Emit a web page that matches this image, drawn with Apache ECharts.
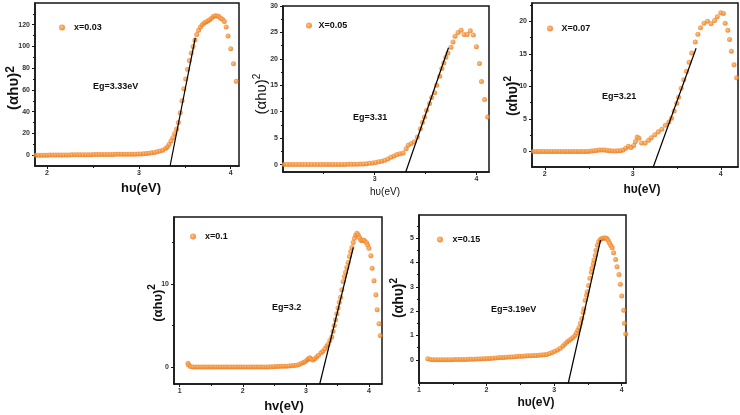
<!DOCTYPE html>
<html><head><meta charset="utf-8">
<script src="https://cdn.jsdelivr.net/npm/echarts@6/dist/echarts.min.js"></script>
<style>html,body{margin:0;padding:0;background:#fff}#c{width:740px;height:415px}</style>
</head><body><div id="c"></div>
<script>
// ---------- DATA ----------
const names = ['x=0.03', 'X=0.05', 'X=0.07', 'x=0.1', 'x=0.15'];
const egLabels = ['Eg=3.33eV', 'Eg=3.31', 'Eg=3.21', 'Eg=3.2', 'Eg=3.19eV'];
const xTitles = ['hυ(eV)', 'hυ(eV)', 'hυ(eV)', 'hv(eV)', 'hυ(eV)'];
const yTitleMain = ['(αhυ)', '(αhυ)', '(αhυ)', '(αhυ)', '(αhυ)'];
const yTitleSup = ['2', '2', '2', '2', '2'];

const x1 = [1.88,1.91,1.94,1.97,2.00,2.03,2.06,2.09,2.12,2.15,2.18,2.21,2.24,2.27,2.30,2.33,2.36,2.39,2.42,2.45,2.48,2.51,2.54,2.57,2.60,2.63,2.66,2.69,2.72,2.75,2.78,2.81,2.84,2.87,2.90,2.93,2.96,2.99,
  3.02,3.05,3.08,3.11,3.14,3.17,3.20,3.23,3.26,3.29,3.31,3.33,3.35,3.37,3.39,3.41,3.43,3.45,3.47,3.49,3.51,3.53,3.55,3.57,3.59,3.61,3.63,3.65,3.67,3.69,3.71,3.73,3.75,3.77,3.79,3.81,3.83,3.85,3.87,3.89,3.91,3.93,3.95,3.97,4.00,4.03,4.06];
const y1 = [0,0,0,0,0,0.1,0.1,0.1,0.1,0.2,0.2,0.2,0.2,0.3,0.3,0.3,0.3,0.4,0.4,0.4,0.4,0.5,0.5,0.5,0.5,0.6,0.6,0.6,0.6,0.7,0.7,0.7,0.8,0.8,0.8,0.9,0.9,1.0,
  1.1,1.3,1.5,1.8,2.1,2.5,3.0,3.7,4.5,6,7.5,10,13,16,20,24,30,39,50,61,70,79,87,94,100,106,111,115,118,120,121.5,122.5,123.5,124.5,126,127.5,128.2,128,127.5,126,125,123,118,109.6,98,84,68];

const x2 = [2.11,2.14,2.17,2.20,2.23,2.26,2.29,2.32,2.35,2.38,2.41,2.44,2.47,2.50,2.53,2.56,2.59,2.62,2.65,2.68,2.71,2.74,2.77,2.80,2.83,2.86,2.89,
  2.92,2.95,2.98,3.01,3.04,3.07,3.10,3.13,3.16,3.19,3.22,3.25,3.28,3.31,3.33,3.36,3.39,3.42,3.45,3.47,3.49,3.51,3.54,3.56,3.59,3.61,3.64,3.66,3.68,3.70,3.72,3.75,3.77,3.79,3.82,3.85,3.88,3.91,3.94,3.97,4.00,4.03,4.05,4.08,4.11];
const y2 = [0,0,0,0,0,0,0,0,0,0,0,0,0,0.02,0.02,0.02,0.03,0.03,0.03,0.04,0.04,0.05,0.05,0.06,0.08,0.1,0.13,
  0.18,0.25,0.32,0.4,0.52,0.65,0.82,1.05,1.4,1.65,1.9,2.05,2.2,3.0,3.65,4.0,4.3,5.2,6.8,8.0,9.0,10.3,11.55,12.7,13.6,15.0,16.7,18.2,19.2,20.3,21.1,22.2,23.2,24.3,25.0,25.4,24.6,24.6,25.3,24.5,22.3,19.1,15.7,12.3,9.0];

const x3 = [1.87,1.90,1.93,1.96,1.99,2.02,2.05,2.08,2.11,2.14,2.17,2.20,2.23,2.26,2.29,2.32,2.35,2.38,2.41,2.44,2.47,2.50,
  2.53,2.56,2.59,2.62,2.65,2.68,2.71,2.74,2.77,2.80,2.83,2.86,2.89,2.92,2.95,2.98,
  3.01,3.03,3.05,3.07,3.10,3.14,3.18,3.21,3.25,3.29,3.33,3.37,3.41,3.44,3.47,3.50,3.52,3.55,3.58,3.61,3.64,3.67,3.71,3.74,3.77,3.81,3.85,3.89,3.93,3.96,4.00,4.03,4.05,4.08,4.10,4.12,4.15,4.18];
const y3 = [0,0,0,0,0,0,0,0,0,0,0,0,0,0,0,0,0,0,0,0,0,0,
  0.05,0.1,0.15,0.2,0.2,0.2,0.15,0.08,0.05,0.05,0.08,0.1,0.2,0.5,0.8,0.6,
  0.9,1.5,2.2,2.0,1.3,1.3,1.7,2.1,2.55,3.0,3.4,4.0,4.5,5.1,6.2,7.4,8.3,9.7,11.0,12.3,13.7,15.1,16.8,18.0,19.0,19.7,20.0,19.6,20.1,20.7,21.3,21.2,19.7,18.6,17.2,15.4,13.3,11.3];

const x4 = [1.13,1.14,1.17,1.21,1.25,1.29,1.33,1.37,1.41,1.45,1.49,1.53,1.57,1.61,1.65,1.69,1.73,1.77,1.81,1.85,1.89,1.93,1.97,2.01,2.05,2.09,2.13,2.17,2.21,2.25,2.29,2.33,2.37,2.41,2.45,2.49,2.53,2.57,
  2.61,2.65,2.69,2.73,2.77,2.81,2.85,2.89,2.93,2.96,2.99,3.02,3.04,3.06,3.08,3.11,3.14,3.17,3.20,3.24,3.27,3.30,3.33,3.35,3.38,3.41,3.43,3.45,3.47,3.49,3.51,3.53,3.55,3.57,3.59,3.61,3.63,3.65,3.67,3.69,3.71,3.73,3.75,3.77,3.79,3.81,3.83,3.85,3.87,3.89,3.91,3.93,3.96,3.98,4.00,4.03,4.05,4.08,4.11,4.13,4.16,4.18];
const y4 = [0.45,0.25,0.05,0,0,0,0,0,0,0,0,0,0,0,0,0,0,0,0,0,0,0,0,0,0,0,0,0,0,0,0,0,0,0,0.02,0.03,0.05,0.06,
  0.08,0.1,0.1,0.12,0.15,0.18,0.2,0.3,0.45,0.55,0.65,0.85,1.0,1.1,0.95,0.85,1.0,1.2,1.4,1.7,1.9,2.2,2.5,2.7,3.2,3.6,4.3,5.0,5.7,6.4,7.1,7.8,8.4,9.3,10.3,10.9,11.4,12.0,12.6,13.3,13.9,14.4,15.0,15.5,15.9,16.1,15.9,15.6,15.3,15.2,15.3,15.2,15.0,14.7,14.3,13.4,11.9,10.4,8.7,6.9,5.2,3.8];

const x5 = [1.13,1.17,1.21,1.25,1.29,1.33,1.37,1.41,1.45,1.49,1.53,1.57,1.61,1.65,1.69,1.73,1.77,1.81,1.85,1.89,1.93,1.97,2.01,2.05,2.09,2.13,2.17,2.21,2.25,2.29,2.33,2.37,2.41,2.45,2.49,2.53,2.57,2.61,2.65,2.69,2.73,2.77,2.81,2.85,2.89,
  2.93,2.97,3.01,3.05,3.09,3.13,3.16,3.19,3.22,3.25,3.28,3.31,3.33,3.35,3.37,3.39,3.41,3.43,3.44,3.46,3.48,3.49,3.51,3.53,3.55,3.56,3.58,3.59,3.61,3.62,3.64,3.66,3.68,3.70,3.72,3.74,3.76,3.78,3.80,3.82,3.84,3.86,3.88,3.91,3.93,3.96,3.98,4.00,4.03,4.04,4.06];
const y5 = [0.05,0.02,0.01,0.01,0.01,0.01,0.01,0.01,0.01,0.01,0.02,0.02,0.02,0.02,0.02,0.03,0.03,0.03,0.04,0.04,0.05,0.05,0.06,0.06,0.07,0.08,0.09,0.1,0.1,0.11,0.12,0.12,0.13,0.14,0.15,0.15,0.16,0.17,0.17,0.18,0.18,0.19,0.2,0.21,0.22,
  0.26,0.3,0.35,0.41,0.48,0.57,0.65,0.73,0.8,0.86,0.92,1.0,1.1,1.22,1.33,1.5,1.7,1.95,2.1,2.45,2.65,2.8,3.05,3.35,3.6,3.76,3.95,4.1,4.3,4.5,4.71,4.85,4.93,4.97,5.0,5.01,5.01,4.98,4.9,4.8,4.7,4.6,4.4,4.12,3.82,3.51,3.11,2.62,2.04,1.5,1.06];

// tangent (Tauc extrapolation) lines: [x at bottom, x at top], [y at bottom, y at top]
const tanX = [[3.34, 3.614], [3.306, 3.726], [3.233, 3.72], [3.22, 3.752], [3.21, 3.687]];
const tanY = [[-10, 108], [-1.4, 22.1], [-2.4, 15.85], [-2.05, 14.4], [-0.95, 4.92]];

// tick labels
const xMajor = [[2,3,4],[3,4],[2,3,4],[1,2,3,4],[1,2,3,4]];
const xMinor = [[2.5,3.5],[2.5,3.5],[2.5,3.5],[1.5,2.5,3.5],[1.5,2.5,3.5]];
const yMajor = [[0,20,40,60,80,100,120],[0,5,10,15,20,25,30],[0,5,10,15,20],[0,10],[0,1,2,3,4,5]];
const yMinor = [[10,30,50,70,90,110,130],[2.5,7.5,12.5,17.5,22.5,27.5],[2.5,7.5,12.5,17.5,22.5],[5,15],[0.5,1.5,2.5,3.5,4.5,5.5]];

const xs = [x1, x2, x3, x4, x5];
const ys = [y1, y2, y3, y4, y5];

// ---------- LAYOUT ----------
const FF = '"Liberation Sans", Arial, sans-serif';
const L = [
  {g:[35,3,204,163],   xr:[1.87,4.09],  yr:[-10,140],   leg:[59,23,14],  eg:[93,87],
   xt:[141,188,'bold 13px'], yt:[13,88,'bold 15px','bold 12px']},
  {g:[283,6,206,166],  xr:[2.10,4.124], yr:[-1.4,30],   leg:[306,21,9],  eg:[353,118],
   xt:[385,192,'normal 10px'], yt:[261,94,'normal 15px','normal 10px']},
  {g:[532,3,206,164],  xr:[1.855,4.196],yr:[-2.4,22.8], leg:[547,24,13], eg:[602,97],
   xt:[642,190,'bold 12px'], yt:[512,96,'bold 14px','bold 10px']},
  {g:[174,217,208,167],xr:[0.909,4.207],yr:[-2.05,18.07],leg:[190,232,14],eg:[272,308],
   xt:[284,406,'bold 13px'], yt:[156,303,'bold 13px','bold 10px']},
  {g:[419,215,207,168],xr:[1.0,4.064],  yr:[-0.95,5.95], leg:[437,235,15], eg:[491,310],
   xt:[536,403,'bold 12px'], yt:[398,298,'bold 14px','bold 10px']}
];

const dotColor = {type:'radial', x:0.4, y:0.4, r:0.65, colorStops:[
  {offset:0, color:'#FDB878'}, {offset:0.45, color:'#F6902F'}, {offset:1, color:'#E2701A'}]};

const grids = [], xAxes = [], yAxes = [], series = [], legends = [], graphics = [];
const axisCol = '#151515';
const lblStyle = {fontSize:7, fontWeight:'bold', color:'#333', fontFamily:FF};

L.forEach((c, i) => {
  grids.push({left:c.g[0], top:c.g[1], width:c.g[2], height:c.g[3], show:true,
    borderColor:axisCol, borderWidth:1.5, backgroundColor:'transparent', containLabel:false});
  xAxes.push({type:'value', gridIndex:i, min:c.xr[0], max:c.xr[1], position:'bottom',
    axisLine:{show:true, onZero:false, lineStyle:{color:axisCol, width:1.5}},
    axisTick:{show:true, inside:false, length:3, customValues:xMajor[i], lineStyle:{color:axisCol, width:1}},
    axisLabel:Object.assign({show:true, margin:4, customValues:xMajor[i]}, lblStyle),
    splitLine:{show:false}});
  xAxes.push({type:'value', gridIndex:i, min:c.xr[0], max:c.xr[1], position:'bottom',
    axisLine:{show:false, onZero:false},
    axisTick:{show:true, inside:false, length:2, customValues:xMinor[i], lineStyle:{color:axisCol, width:1}},
    axisLabel:{show:false}, splitLine:{show:false}});
  yAxes.push({type:'value', gridIndex:i, min:c.yr[0], max:c.yr[1], position:'left',
    axisLine:{show:true, onZero:false, lineStyle:{color:axisCol, width:1.5}},
    axisTick:{show:true, inside:false, length:3, customValues:yMajor[i], lineStyle:{color:axisCol, width:1}},
    axisLabel:Object.assign({show:true, margin:5, customValues:yMajor[i]}, lblStyle),
    splitLine:{show:false}});
  yAxes.push({type:'value', gridIndex:i, min:c.yr[0], max:c.yr[1], position:'left',
    axisLine:{show:false, onZero:false},
    axisTick:{show:true, inside:false, length:2, customValues:yMinor[i], lineStyle:{color:axisCol, width:1}},
    axisLabel:{show:false}, splitLine:{show:false}});

  series.push({type:'scatter', name:names[i], xAxisIndex:2*i, yAxisIndex:2*i,
    data: xs[i].map((v, k) => [v, ys[i][k]]), symbol:'circle', symbolSize:5,
    itemStyle:{color:dotColor}, z:2, silent:true});
  series.push({type:'line', name:'tangent'+i, xAxisIndex:2*i, yAxisIndex:2*i,
    data: tanX[i].map((v, k) => [v, tanY[i][k]]), symbol:'none',
    lineStyle:{color:'#000', width:1.2}, z:3, silent:true});

  legends.push({data:[names[i]], left:c.leg[0], top:c.leg[1], padding:0, icon:'circle',
    itemWidth:c.leg[2], itemHeight:6, itemGap:0, selectedMode:false,
    textStyle:{fontSize:9, fontWeight:'bold', color:'#111', fontFamily:FF}});

  graphics.push({type:'text', x:c.eg[0], y:c.eg[1], silent:true,
    style:{text:egLabels[i], fill:'#111', font:'bold 9px ' + FF, align:'left', verticalAlign:'middle',
      textAlign:'left', textVerticalAlign:'middle'}});
  graphics.push({type:'text', x:c.xt[0], y:c.xt[1], silent:true,
    style:{text:xTitles[i], fill:'#111', font:c.xt[2] + ' ' + FF, align:'center', verticalAlign:'middle',
      textAlign:'center', textVerticalAlign:'middle'}});
  graphics.push({type:'text', x:c.yt[0], y:c.yt[1], rotation:Math.PI/2, silent:true,
    style:{text:'{m|' + yTitleMain[i] + '}{s|' + yTitleSup[i] + '}', fill:'#111',
      align:'center', verticalAlign:'middle', textAlign:'center', textVerticalAlign:'middle',
      rich:{m:{font:c.yt[2] + ' ' + FF, fill:'#111', lineHeight:17, verticalAlign:'bottom'},
            s:{font:c.yt[3] + ' ' + FF, fill:'#111', lineHeight:17, verticalAlign:'top'}}}});
});

const chart = echarts.init(document.getElementById('c'), null, {renderer:'canvas'});
chart.setOption({
  animation:false,
  backgroundColor:'#fff',
  grid:grids, xAxis:xAxes, yAxis:yAxes, series:series, legend:legends, graphic:graphics,
  tooltip:{show:false}
});
</script></body></html>
